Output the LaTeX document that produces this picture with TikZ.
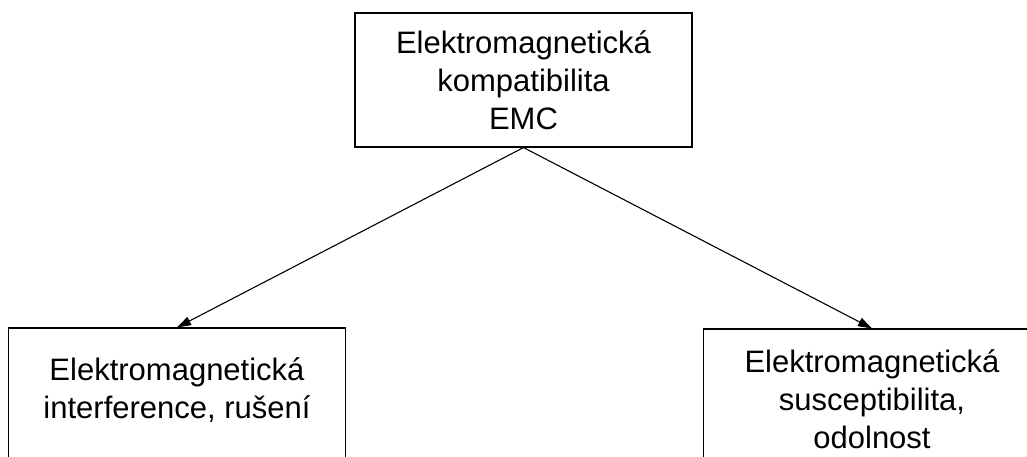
\documentclass[tikz,border=0pt]{standalone}
\usepackage{fontspec}
\setmainfont{Liberation Sans}
\usepackage{tikz}
\usetikzlibrary{positioning,arrows.meta}

\begin{document}
\begin{tikzpicture}[x=1pt,y=-1pt,node distance=2cm,on grid,
    >={Triangle[length=14pt,width=9pt]},line width=1.1pt]
  \tikzstyle{block}=[rectangle,draw=black,fill=white,align=center,
  			  font=\fontsize{31}{38}\selectfont,minimum width=337pt,inner sep=0pt]

  \useasboundingbox (0,0) rectangle (1027,457);

  \node[block,minimum height=134pt] (emc) at (523.5,80) {Elektromagnetická\\kompatibilita\\EMC};
  \node[block,minimum height=140pt,text depth=20pt] (emi) [below left=318pt and 346.5pt of emc] {Elektromagnetická\\interference, rušení};
  \node[block,minimum height=140pt] (ems) [below right=319pt and 348.5pt of emc] {Elektromagnetická\\susceptibilita,\\odolnost};

  \path[->] (emc.south) edge (emi.north);
  \path[->] (emc.south) edge (ems.north);
\end{tikzpicture}
\end{document}
